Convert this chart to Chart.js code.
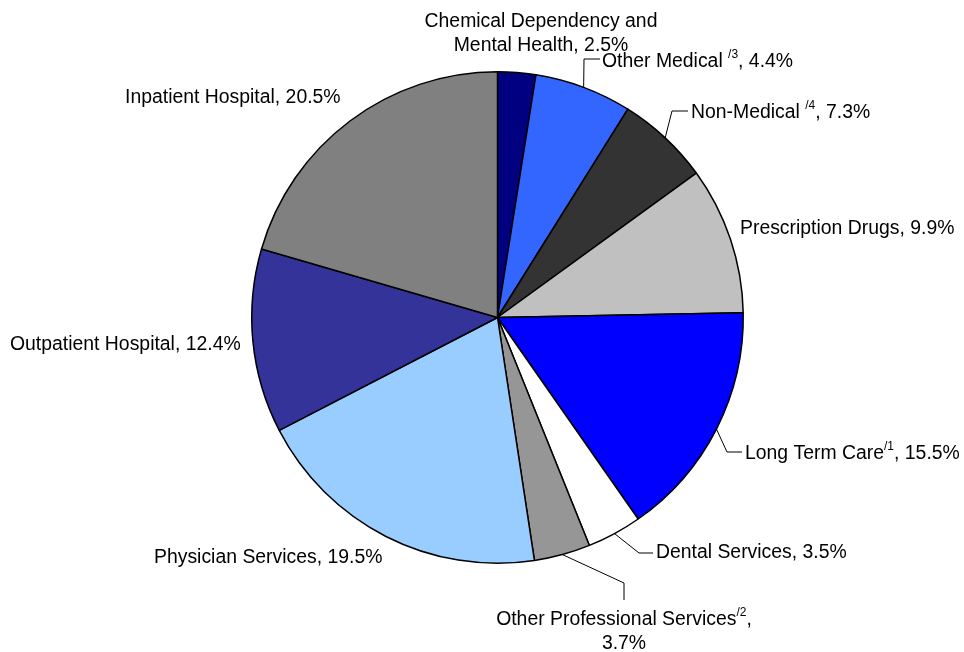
<!DOCTYPE html>
<html>
<head>
<meta charset="utf-8">
<script src="https://cdn.jsdelivr.net/npm/chart.js@4"></script>
<style>
    html, body { margin: 0; padding: 0; background: #fff; }
    #wrap { width: 964px; height: 652px; }
</style>
</head>
<body>
<div id="wrap"><canvas id="chartCanvas" width="964" height="652"></canvas></div>
<script>

// slice names, clockwise from 12 o'clock
const names = [
    "Chemical Dependency and\nMental Health",
    "Other Medical ",
    "Non-Medical ",
    "Prescription Drugs",
    "Long Term Care",
    "Dental Services",
    "Other Professional Services",
    "Physician Services",
    "Outpatient Hospital",
    "Inpatient Hospital"
];

// footnote marks shown as superscripts
const notes = ["", "/3", "/4", "", "/1", "", "/2", "", "", ""];

// percentages as printed on the labels
const pctLabels = ["2.5%", "4.4%", "7.3%", "9.9%", "15.5%", "3.5%", "3.7%", "19.5%", "12.4%", "20.5%"];

const shares = [2.5, 6.4, 6.1, 9.7, 15.6, 3.6, 3.7, 19.8, 12.1, 20.5];

const colors = [
    "#000080", "#3366FF", "#333333", "#C0C0C0", "#0000FF",
    "#FFFFFF", "#969696", "#99CCFF", "#333399", "#808080"
];

// where each label sits; elbow/end describe the leader line
const labelPlaces = [
    { x: 541, y: 22, align: "center" },
    { x: 602, y: 62, align: "left", elbow: [584, 59], end: [600, 59] },
    { x: 691, y: 113, align: "left", elbow: [672, 111], end: [688, 111] },
    { x: 740, y: 229, align: "left" },
    { x: 745, y: 454, align: "left", elbow: [727, 452], end: [742, 452] },
    { x: 656, y: 553, align: "left", elbow: [639, 553], end: [653, 553] },
    { x: 624, y: 620, align: "center", elbow: [624, 583], end: [624, 600], pctBreak: true },
    { x: 154, y: 558, align: "left" },
    { x: 10, y: 345, align: "left" },
    { x: 125, y: 98, align: "left" }
];

const FONT = "19.4px 'Liberation Sans', Arial, sans-serif";
const SUP_FONT = "12px 'Liberation Sans', Arial, sans-serif";
const LINE_H = 24;

function buildLines(i) {

    const nameLines = names[i].split("\n");

    const lines = nameLines.map(t => [{ t }]);

    const last = lines[lines.length - 1];

    if (notes[i]) {
        last.push({ t: notes[i], sup: true });
    }

    if (labelPlaces[i].pctBreak) {
        last.push({ t: "," });
        lines.push([{ t: pctLabels[i] }]);
    } else {
        last.push({ t: ", " + pctLabels[i] });
    }

    return lines;

}

function lineWidth(ctx, segs) {

    let w = 0;

    segs.forEach(s => {
        ctx.font = s.sup ? SUP_FONT : FONT;
        w += ctx.measureText(s.t).width;
    });

    return w;

}

const labelPlugin = {

    id: "pieLabels",

    afterDatasetsDraw(chart) {

        const ctx = chart.ctx;
        const arcs = chart.getDatasetMeta(0).data;

        ctx.save();

        arcs.forEach((arc, i) => {

            const place = labelPlaces[i];

            if (place.elbow) {

                const mid = (arc.startAngle + arc.endAngle) / 2;
                const sx = arc.x + Math.cos(mid) * arc.outerRadius;
                const sy = arc.y + Math.sin(mid) * arc.outerRadius;

                ctx.strokeStyle = "#000";
                ctx.lineWidth = 1;
                ctx.beginPath();
                ctx.moveTo(sx, sy);
                ctx.lineTo(place.elbow[0], place.elbow[1]);
                ctx.lineTo(place.end[0], place.end[1]);
                ctx.stroke();

            }

            const lines = buildLines(i);

            ctx.fillStyle = "#000";
            ctx.textBaseline = "middle";
            ctx.textAlign = "left";

            lines.forEach((segs, k) => {

                const w = lineWidth(ctx, segs);

                let x = place.align === "center" ? place.x - w / 2 : place.x;
                const y = place.y + k * LINE_H;

                segs.forEach(s => {
                    ctx.font = s.sup ? SUP_FONT : FONT;
                    ctx.fillText(s.t, x, s.sup ? y - 7 : y);
                    x += ctx.measureText(s.t).width;
                });

            });

        });

        ctx.restore();

    }

};

const ctx =
    document
    .getElementById("chartCanvas")
    .getContext("2d");

new Chart(ctx, {

    type: "pie",

    data: {

        labels: names,

        datasets: [{
            data: shares,
            backgroundColor: colors,
            borderColor: "#000000",
            borderWidth: 1.5,
            borderAlign: "center"
        }]

    },

    options: {

        responsive: false,
        animation: false,

        layout: {
            padding: { left: 251, right: 220, top: 71, bottom: 88 }
        },

        plugins: {
            legend: { display: false },
            tooltip: { enabled: false }
        }

    },

    plugins: [labelPlugin]

});

</script>
</body>
</html>
